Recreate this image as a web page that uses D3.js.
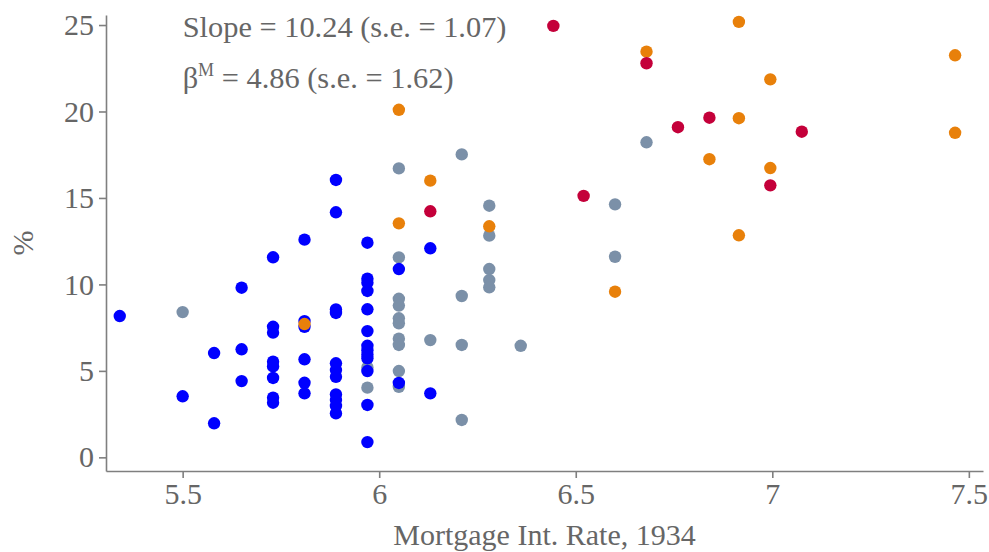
<!DOCTYPE html>
<meta charset="utf-8" />
<script src="https://d3js.org/d3.v7.min.js"></script>
<style>
  body { margin: 0; background: #fff; }
  text { font-family: "Liberation Serif", "Times New Roman", serif; fill: #666; }
</style>
<body>
  <div id="my_dataviz"></div>
</body>
<script>
  // mortgage rate (x) vs % (y), one list per group
  var grayPts = [
    [5.50, 8.40], [5.97, 5.20], [5.97, 4.03],
    [6.05, 16.71], [6.05, 11.56], [6.05, 9.17], [6.05, 8.78], [6.05, 8.04],
    [6.05, 7.75], [6.05, 6.86], [6.05, 6.50], [6.05, 4.99], [6.05, 4.08],
    [6.13, 6.78], [6.21, 17.52], [6.21, 9.33], [6.21, 6.50], [6.21, 2.16],
    [6.28, 14.55], [6.28, 12.82], [6.28, 10.89], [6.28, 10.25], [6.28, 9.83],
    [6.36, 6.45], [6.60, 14.63], [6.60, 11.60], [6.68, 18.22]
  ];
  var bluePts = [
    [5.34, 8.17], [5.50, 3.53], [5.58, 6.03], [5.58, 1.97],
    [5.65, 9.81], [5.65, 6.25], [5.65, 4.41],
    [5.73, 11.57], [5.73, 7.55], [5.73, 7.21], [5.73, 5.53], [5.73, 5.26],
    [5.73, 4.59], [5.73, 3.45], [5.73, 3.16],
    [5.81, 12.59], [5.81, 7.88], [5.81, 7.55], [5.81, 5.67], [5.81, 4.31], [5.81, 3.70],
    [5.89, 16.04], [5.89, 14.17], [5.89, 8.55], [5.89, 8.35], [5.89, 5.44],
    [5.89, 5.05], [5.89, 4.66], [5.89, 3.64], [5.89, 3.31], [5.89, 2.97], [5.89, 2.54],
    [5.97, 12.41], [5.97, 10.33], [5.97, 10.10], [5.97, 9.62], [5.97, 8.56],
    [5.97, 7.30], [5.97, 6.45], [5.97, 6.20], [5.97, 5.95], [5.97, 5.73],
    [5.97, 4.99], [5.97, 3.03], [5.97, 0.88],
    [6.05, 10.89], [6.05, 4.30], [6.13, 12.09], [6.13, 3.70]
  ];
  var orangePts = [
    [5.81, 7.71], [6.05, 20.10], [6.05, 13.53], [6.13, 16.00], [6.28, 13.36],
    [6.60, 9.58], [6.68, 23.46], [6.84, 17.24], [6.915, 25.18], [6.915, 19.61],
    [6.915, 12.84], [6.995, 21.86], [6.995, 16.73], [7.465, 23.25], [7.465, 18.77]
  ];
  var redPts = [
    [6.13, 14.23], [6.443, 24.95], [6.52, 15.12], [6.68, 22.79],
    [6.76, 19.09], [6.84, 19.64], [6.995, 15.73], [7.075, 18.83]
  ];
  var groupColors = ["#7b90a8", "#0000ff", "#e8800a", "#c4003a"];
  var xTicks = [5.5, 6, 6.5, 7, 7.5];
  var yTicks = [0, 5, 10, 15, 20, 25];

  var width = 989, height = 552;
  var svg = d3.select("#my_dataviz").append("svg")
    .attr("width", width).attr("height", height);

  var x = d3.scaleLinear().domain([5.305, 7.536]).range([106, 983]);
  var y = d3.scaleLinear().domain([-0.79, 25.58]).range([471, 15]);

  // axes
  var xAxis = svg.append("g").attr("transform", "translate(0,471)")
    .call(d3.axisBottom(x).tickValues(xTicks).tickSizeOuter(0).tickSizeInner(7).tickPadding(5).tickFormat(function (d) { return d; }));
  var yAxis = svg.append("g").attr("transform", "translate(106,0)")
    .call(d3.axisLeft(y).tickValues(yTicks).tickSizeOuter(0).tickSizeInner(7).tickPadding(5));
  [xAxis, yAxis].forEach(function (a) {
    a.selectAll("path, line").attr("stroke", "#7f7f7f").attr("stroke-width", 1.6);
    a.selectAll("text").style("font-size", "30px").attr("fill", "#666");
  });

  // axis titles
  svg.append("text").attr("x", (106 + 983) / 2).attr("y", 545)
    .attr("text-anchor", "middle").style("font-size", "30px").text("Mortgage Int. Rate, 1934");
  svg.append("text").attr("transform", "translate(33,243) rotate(-90)")
    .attr("text-anchor", "middle").style("font-size", "30px").text("%");

  // points
  [grayPts, bluePts, orangePts, redPts].forEach(function (pts, i) {
    svg.append("g").selectAll("circle").data(pts).enter().append("circle")
      .attr("cx", function (d) { return x(d[0]); })
      .attr("cy", function (d) { return y(d[1]); })
      .attr("r", 6.2)
      .attr("fill", groupColors[i]);
  });

  // annotations
  svg.append("text").attr("x", x(5.5)).attr("y", 37).style("font-size", "30.4px")
    .text("Slope = 10.24 (s.e. = 1.07)");
  var t2 = svg.append("text").attr("x", x(5.5)).attr("y", 88).style("font-size", "30.4px");
  t2.append("tspan").text("β");
  t2.append("tspan").attr("dy", -12).style("font-size", "18px").text("M");
  t2.append("tspan").attr("dy", 12).text(" = 4.86 (s.e. = 1.62)");
</script>
